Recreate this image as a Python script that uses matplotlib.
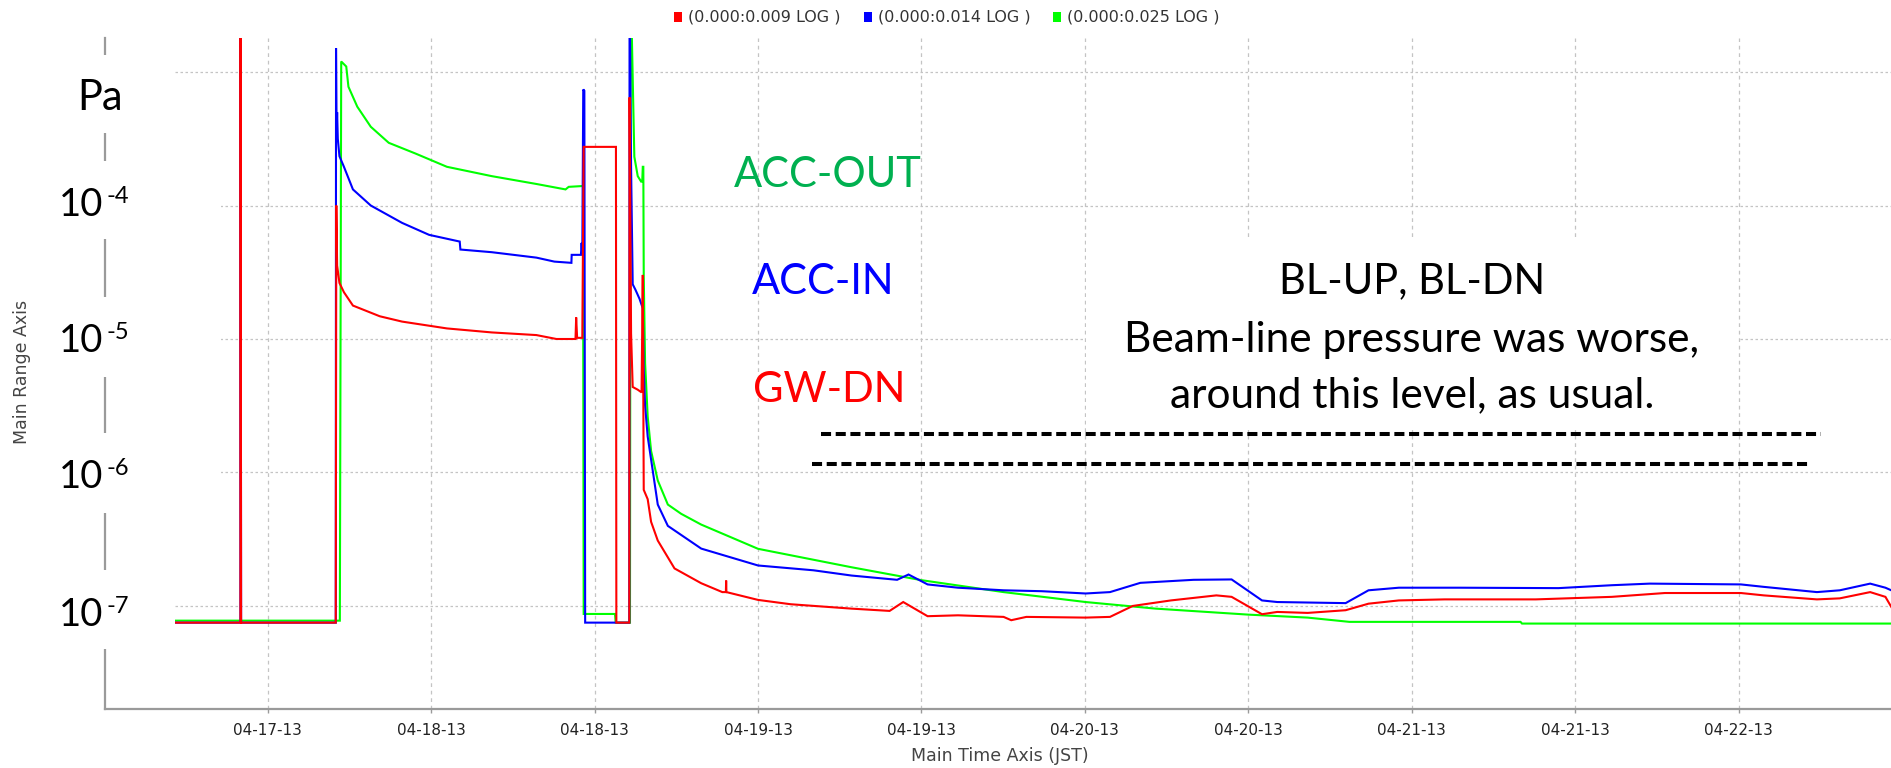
import numpy as np
import matplotlib
matplotlib.use("Agg")
import matplotlib.pyplot as plt
from matplotlib.patches import Rectangle
from matplotlib.ticker import NullLocator

# ---------------- data (hours since 04-17 00:00 JST, pressure in Pa) ----------------
red_h = [0.1, 10.0, 10.01, 10.05, 17.0, 17.04, 17.1, 17.27, 17.6, 18.26, 20.23, 21.87, 25.16, 28.45,
         31.73, 33.2, 34.6, 34.65, 34.72, 35.1, 35.2, 37.57, 37.6, 38.55, 38.57, 38.68, 38.8, 39.17,
         39.45, 39.54, 39.61, 39.9, 40.15, 40.64, 41.87, 43.83, 45.38, 45.64, 45.66, 45.68, 48.0,
         50.4, 54.86, 57.66, 58.66, 60.45, 62.68, 66.03, 66.59, 67.7, 72.05, 73.84, 75.51, 78.31,
         81.65, 82.77, 85.0, 86.12, 88.35, 91.14, 92.82, 95.05, 98.4, 105.1, 110.68, 114.58, 120.16,
         121.84, 125.74, 127.42, 129.65, 130.77, 131.2]
red_p = [7.5e-8, 7.5e-8, 5e-3, 7.5e-8, 7.5e-8, 1.0e-4, 3.55e-5, 2.63e-5, 2.24e-5, 1.78e-5, 1.48e-5,
         1.35e-5, 1.20e-5, 1.12e-5, 1.07e-5, 1.0e-5, 1.0e-5, 1.45e-5, 1.02e-5, 1.02e-5, 2.75e-4,
         2.75e-4, 7.5e-8, 7.5e-8, 6.46e-4, 1.10e-5, 4.37e-6, 4.17e-6, 3.98e-6, 3.02e-5, 7.41e-7,
         6.31e-7, 4.27e-7, 3.09e-7, 1.91e-7, 1.48e-7, 1.27e-7, 1.27e-7, 1.55e-7, 1.27e-7, 1.11e-7,
         1.03e-7, 9.55e-8, 9.18e-8, 1.07e-7, 8.38e-8, 8.51e-8, 8.28e-8, 7.82e-8, 8.28e-8, 8.18e-8,
         8.28e-8, 1.0e-7, 1.10e-7, 1.20e-7, 1.17e-7, 8.67e-8, 9.02e-8, 8.87e-8, 9.29e-8, 1.04e-7,
         1.10e-7, 1.12e-7, 1.12e-7, 1.17e-7, 1.25e-7, 1.25e-7, 1.20e-7, 1.12e-7, 1.14e-7, 1.27e-7,
         1.17e-7, 9.84e-8]

blue_h = [0.1, 10.0, 10.01, 10.05, 17.0, 17.02, 17.06, 17.1, 17.15, 17.27, 17.6, 18.26, 19.57, 21.87,
          23.85, 26.1, 26.15, 28.45, 31.73, 33.05, 34.3, 34.32, 35.0, 35.05, 35.1, 35.17, 35.25,
          35.31, 38.55, 38.57, 38.68, 38.8, 39.0, 39.3, 39.54, 39.6, 39.71, 39.9, 40.64, 41.38,
          43.83, 48.0, 52.07, 54.86, 58.21, 59.05, 60.45, 62.68, 66.03, 68.82, 72.05, 73.84, 76.07,
          79.98, 82.77, 85.0, 86.12, 91.14, 92.82, 95.05, 99.51, 106.77, 110.68, 113.47, 120.16,
          121.84, 125.74, 127.42, 129.65, 130.77, 131.2]
blue_p = [7.5e-8, 7.5e-8, 5e-3, 7.5e-8, 7.5e-8, 1.51e-3, 3.47e-4, 5.0e-4, 3.16e-4, 2.34e-4, 1.95e-4,
          1.32e-4, 1.0e-4, 7.41e-5, 6.03e-5, 5.37e-5, 4.68e-5, 4.47e-5, 4.07e-5, 3.80e-5, 3.72e-5,
          4.27e-5, 4.27e-5, 5.25e-5, 4.27e-5, 7.41e-4, 7.24e-4, 7.5e-8, 7.5e-8, 5e-3, 1.95e-4,
          2.57e-5, 2.34e-5, 2.0e-5, 1.70e-5, 6.31e-6, 3.16e-6, 1.86e-6, 5.75e-7, 3.98e-7, 2.69e-7,
          2.01e-7, 1.85e-7, 1.69e-7, 1.57e-7, 1.72e-7, 1.45e-7, 1.37e-7, 1.31e-7, 1.29e-7, 1.24e-7,
          1.27e-7, 1.49e-7, 1.57e-7, 1.58e-7, 1.10e-7, 1.07e-7, 1.05e-7, 1.31e-7, 1.37e-7, 1.37e-7,
          1.36e-7, 1.43e-7, 1.47e-7, 1.45e-7, 1.39e-7, 1.27e-7, 1.31e-7, 1.47e-7, 1.37e-7, 1.31e-7]

green_h = [0.1, 17.3, 17.4, 17.77, 17.93, 18.58, 19.57, 20.89, 22.86, 25.16, 28.45, 31.73, 33.87,
           34.1, 35.15, 35.2, 37.5, 37.55, 38.6, 38.65, 38.92, 39.17, 39.42, 39.5, 39.54, 39.58,
           39.61, 39.71, 39.9, 40.15, 40.64, 41.38, 42.36, 43.83, 48.0, 54.86, 60.0, 66.03, 72.05,
           77.19, 84.0, 88.35, 91.42, 103.98, 104.09, 131.2]
green_p = [7.76e-8, 7.76e-8, 1.20e-3, 1.10e-3, 7.76e-4, 5.50e-4, 3.89e-4, 2.95e-4, 2.45e-4, 1.95e-4,
           1.66e-4, 1.45e-4, 1.32e-4, 1.38e-4, 1.40e-4, 8.71e-8, 8.71e-8, 7.5e-8, 7.5e-8, 5e-3,
           2.32e-4, 1.66e-4, 1.51e-4, 1.51e-4, 1.95e-4, 1.95e-4, 3.02e-5, 6.61e-6, 2.63e-6, 1.45e-6,
           8.71e-7, 5.75e-7, 4.90e-7, 4.07e-7, 2.68e-7, 1.95e-7, 1.56e-7, 1.27e-7, 1.07e-7, 9.55e-8,
           8.61e-8, 8.18e-8, 7.60e-8, 7.60e-8, 7.38e-8, 7.38e-8]

legend_labels = ["(0.000:0.009 LOG )", "(0.000:0.014 LOG )", "(0.000:0.025 LOG )"]
series_colors = ["#ff0000", "#0000ff", "#00ff00"]

tick_hours = [12, 24, 36, 48, 60, 72, 84, 96, 108, 120]
tick_labels = ["04-17-13", "04-18-13", "04-18-13", "04-19-13", "04-19-13",
               "04-20-13", "04-20-13", "04-21-13", "04-21-13", "04-22-13"]
decades = [1e-7, 1e-6, 1e-5, 1e-4, 1e-3]
ylabel_exps = ["-4", "-5", "-6", "-7"]

# beam-line level guide lines (hours, Pa)
guide1_h = [52.6, 126.07]
guide1_p = [1.94e-6, 1.94e-6]
guide2_h = [51.94, 125.32]
guide2_p = [1.16e-6, 1.16e-6]

# ---------------- figure ----------------
W, H = 1891, 768
fig = plt.figure(figsize=(W / 100, H / 100), dpi=100)
fig.patch.set_facecolor("white")

def fx(px):
    return px / W

def fy(py):
    return 1 - py / H

left, right, top, bottom = 105.3, 1891, 38, 709
ax = fig.add_axes([fx(left), fy(bottom), fx(right) - fx(left), fy(top) - fy(bottom)])
ax.set_facecolor("white")
ax.set_yscale("log")
ax.set_ylim(10 ** -7.772, 10 ** -2.745)
ax.set_xlim(0.08, 131.18)

for s in ["top", "right"]:
    ax.spines[s].set_visible(False)
for s in ["left", "bottom"]:
    ax.spines[s].set_color("#9a9a9a")
    ax.spines[s].set_linewidth(1.6)

ax.set_yticks(decades)
ax.yaxis.set_minor_locator(NullLocator())
ax.tick_params(axis="y", which="both", left=False, labelleft=False)
ax.set_xticks(tick_hours)
ax.set_xticklabels(tick_labels, fontsize=11, color="#222222", family="DejaVu Sans")
ax.tick_params(axis="x", length=3, width=1, color="#9a9a9a", pad=7)

ax.grid(axis="x", color="#c4c4c4", linewidth=0.9, linestyle=(0, (3, 3)))
ax.grid(axis="y", color="#c4c4c4", linewidth=0.9, linestyle=(0, (2, 2)))
ax.set_axisbelow(True)

lw = 1.5
ax.plot(green_h, green_p, color=series_colors[2], lw=lw, zorder=3, solid_joinstyle="miter")
ax.plot(blue_h, blue_p, color=series_colors[1], lw=lw, zorder=4, solid_joinstyle="miter")
ax.plot(red_h, red_p, color=series_colors[0], lw=lw, zorder=5, solid_joinstyle="miter")

# dashed guide lines
ax.plot(guide1_h, guide1_p, color="black", lw=2.9, dashes=(2.5, 1.15), zorder=6)
ax.plot(guide2_h, guide2_p, color="black", lw=2.9, dashes=(2.5, 1.15), zorder=6)

# axis titles (small, chart-tool style)
fig.text(fx(1000), fy(756), "Main Time Axis (JST)", ha="center", va="center",
         fontsize=12.5, color="#444444", family="DejaVu Sans")
fig.text(fx(22), fy(372), "Main Range Axis", ha="center", va="center", rotation=90,
         fontsize=12.5, color="#444444", family="DejaVu Sans")

# legend at the top
leg_x = [674, 864, 1053]
for xs, col, lab in zip(leg_x, series_colors, legend_labels):
    fig.add_artist(Rectangle((fx(xs), fy(22)), fx(8), 10 / H, transform=fig.transFigure,
                             facecolor=col, edgecolor="none"))
    fig.text(fx(xs + 14), fy(17), lab, ha="left", va="center", fontsize=11.5,
             color="#333333", family="DejaVu Sans")

# white boxes of pasted labels (cover spine and grid)
boxes = [(40, 55, 175, 133), (40, 161, 221, 239), (40, 297, 221, 377),
         (40, 433, 221, 513), (40, 570, 175, 649), (1086, 237, 1738, 430)]
for x0, y0, x1, y1 in boxes:
    fig.add_artist(Rectangle((fx(x0), fy(y1)), fx(x1) - fx(x0), (y1 - y0) / H,
                             transform=fig.transFigure, facecolor="white", edgecolor="none",
                             zorder=1))

big = "Lato"
fig.text(fx(77), fy(110), "Pa", ha="left", va="baseline", fontsize=30, family=big, zorder=4)
label_baselines = [216, 352, 488, 626]
for e, b in zip(ylabel_exps, label_baselines):
    fig.text(fx(59), fy(b), "10", ha="left", va="baseline", fontsize=27.5, family=big, zorder=4)
    fig.text(fx(106), fy(b - 13), e, ha="left", va="baseline", fontsize=17, family=big, zorder=4)

fig.text(fx(828), fy(187), "ACC-OUT", ha="center", va="baseline", fontsize=30,
         color="#00b050", family=big, zorder=4)
fig.text(fx(823), fy(294), "ACC-IN", ha="center", va="baseline", fontsize=30,
         color="#0000ff", family=big, zorder=4)
fig.text(fx(829), fy(402), "GW-DN", ha="center", va="baseline", fontsize=30,
         color="#ff0000", family=big, zorder=4)

fig.text(fx(1412), fy(293), "BL-UP, BL-DN", ha="center", va="baseline", fontsize=30,
         family=big, zorder=4)
fig.text(fx(1412), fy(352), "Beam-line pressure was worse,", ha="center", va="baseline",
         fontsize=30.5, family=big, zorder=4)
fig.text(fx(1412), fy(407), "around this level, as usual.", ha="center", va="baseline",
         fontsize=30.5, family=big, zorder=4)

fig.savefig("out.png", dpi=100, facecolor="white")
